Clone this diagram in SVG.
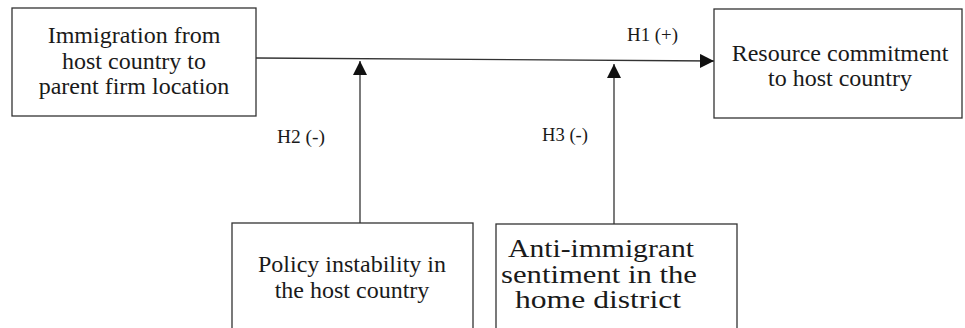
<svg xmlns="http://www.w3.org/2000/svg" width="965" height="328" viewBox="0 0 965 328">
<style>
.box{fill:#fff;stroke:#333;stroke-width:1.3}
.t{font-family:"Liberation Serif","Times New Roman",serif;font-size:24px;fill:#1a1a1a;text-anchor:middle}
.w{font-size:25px}
.h{font-family:"Liberation Serif","Times New Roman",serif;font-size:18px;fill:#1a1a1a}
.c{stroke:#333;stroke-width:1.3;fill:none}
</style>
<defs>
<marker id="arr" markerUnits="userSpaceOnUse" markerWidth="14" markerHeight="14" refX="14" refY="7" orient="auto">
<path d="M0,0 L14,7 L0,14 z" fill="#111"/>
</marker>
</defs>
<rect width="965" height="328" fill="#fff"/>
<g id="connectors">
<line class="c" x1="256" y1="58" x2="714" y2="61" marker-end="url(#arr)"/>
<line class="c" x1="360" y1="223" x2="360" y2="61" marker-end="url(#arr)"/>
<line class="c" x1="614" y1="224" x2="614" y2="64" marker-end="url(#arr)"/>
<text class="h" x="627" y="41" textLength="51" lengthAdjust="spacingAndGlyphs">H1 (+)</text>
<text class="h" x="277" y="143" textLength="48" lengthAdjust="spacingAndGlyphs">H2 (-)</text>
<text class="h" x="542" y="141" textLength="46" lengthAdjust="spacingAndGlyphs">H3 (-)</text>
</g>
<g id="immigration">
<rect class="box" x="12" y="8" width="244" height="108"/>
<text class="t" x="134" y="43">Immigration from</text>
<text class="t" x="134" y="69">host country to</text>
<text class="t" x="134" y="94">parent firm location</text>
</g>
<g id="resource">
<rect class="box" x="714" y="9" width="248" height="109"/>
<text class="t" x="840" y="61">Resource commitment</text>
<text class="t" x="840" y="86">to host country</text>
</g>
<g id="policy">
<rect class="box" x="232" y="223" width="241" height="120"/>
<text class="t" x="352" y="272">Policy instability in</text>
<text class="t" x="352" y="298">the host country</text>
</g>
<g id="sentiment">
<rect class="box" x="496" y="224" width="241" height="120"/>
<text class="t w" x="601" y="257" textLength="186" lengthAdjust="spacingAndGlyphs">Anti-immigrant</text>
<text class="t w" x="599" y="283" textLength="196" lengthAdjust="spacingAndGlyphs">sentiment in the</text>
<text class="t w" x="598" y="308" textLength="166" lengthAdjust="spacingAndGlyphs">home district</text>
</g>
</svg>
